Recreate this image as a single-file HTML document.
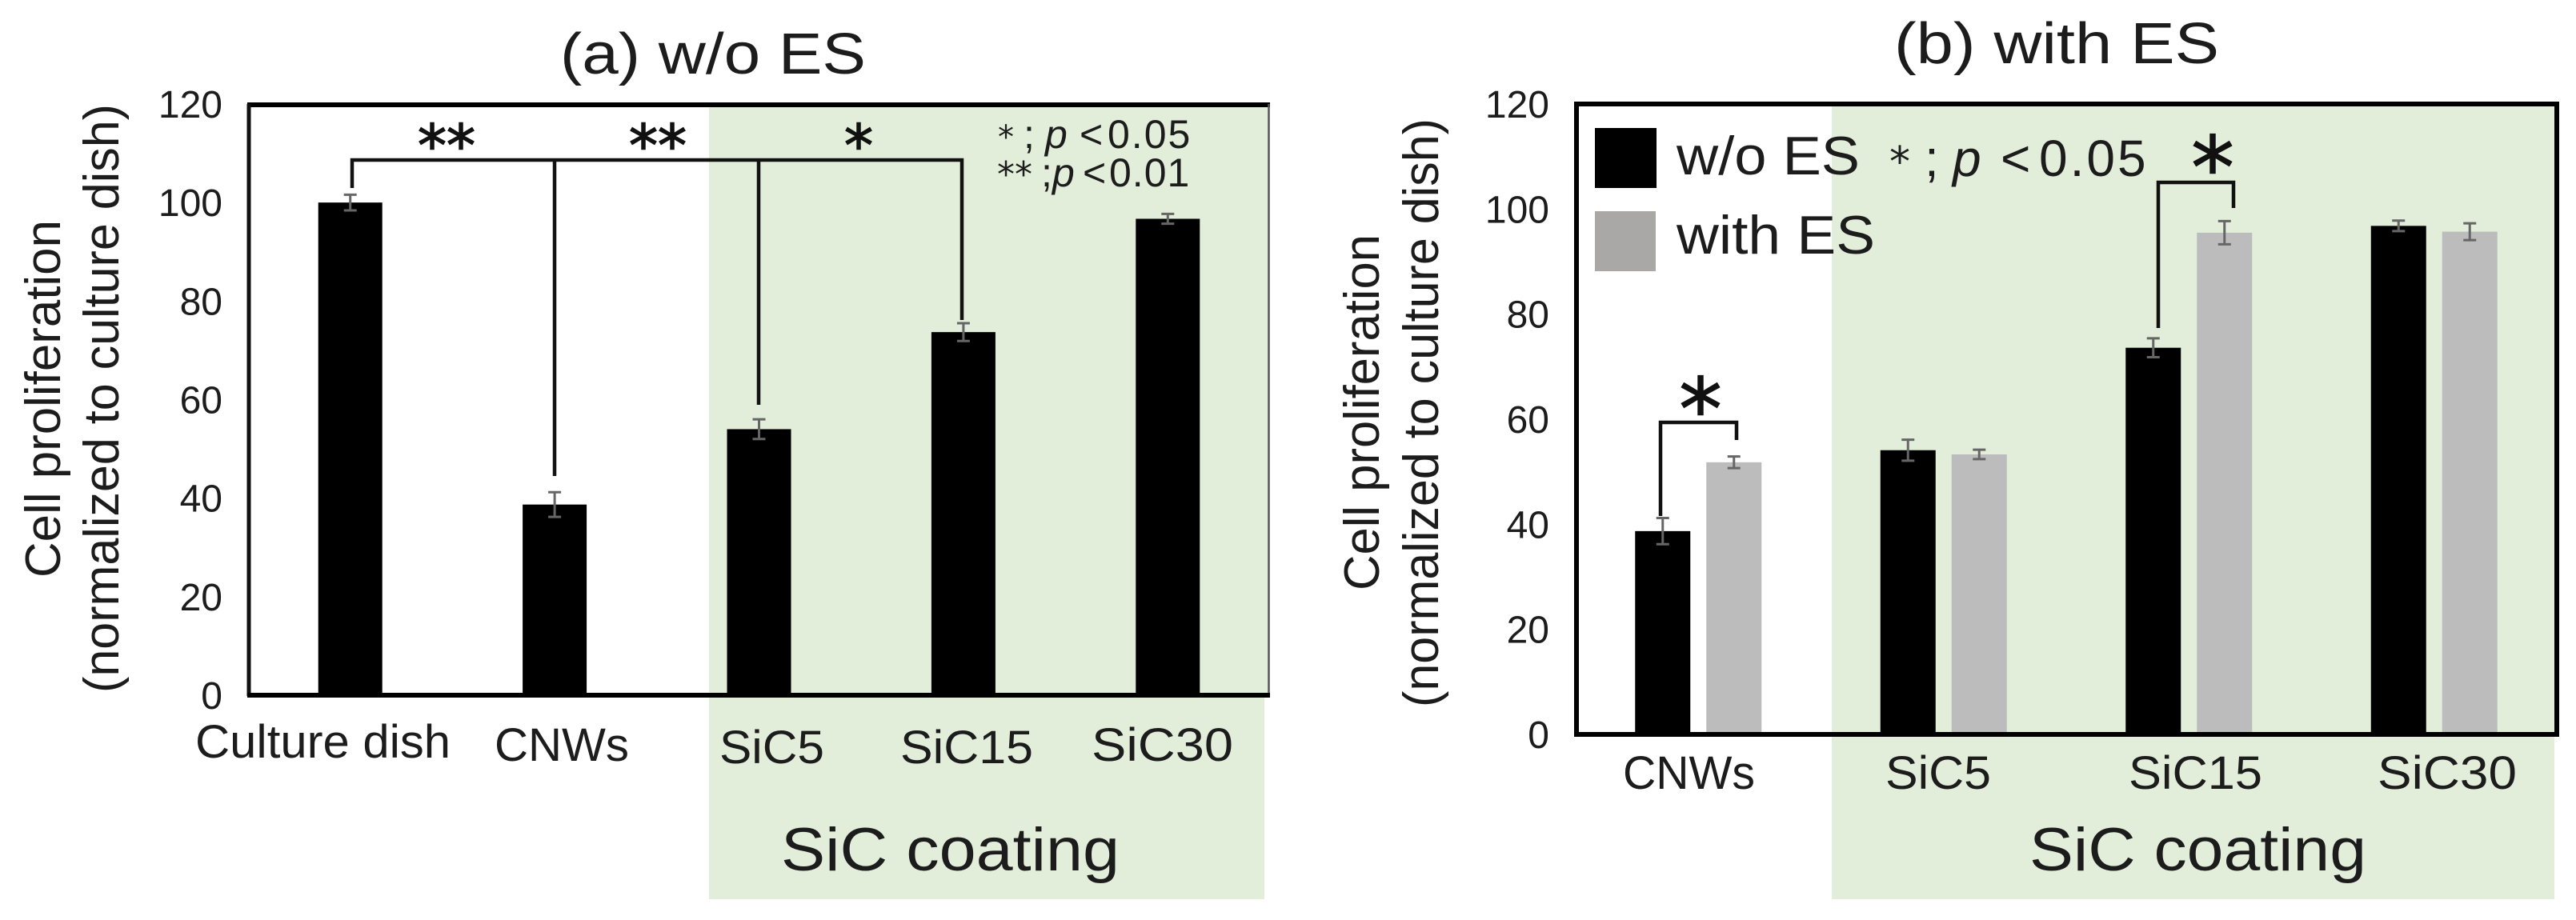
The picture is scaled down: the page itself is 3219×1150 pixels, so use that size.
<!DOCTYPE html>
<html>
<head>
<meta charset="utf-8">
<title>Cell proliferation</title>
<style>
html,body{margin:0;padding:0;background:#fff;}
svg{display:block;}
text{font-family:"Liberation Sans","DejaVu Sans",sans-serif;fill:#1c1c1c;}
.star{font-family:"DejaVu Sans","Liberation Sans",sans-serif;fill:#111;stroke:#111;stroke-width:1.5;text-anchor:middle;}
.st{font-family:"DejaVu Sans","Liberation Sans",sans-serif;}
.it{font-style:italic;}
</style>
</head>
<body>
<svg id="figure" xmlns="http://www.w3.org/2000/svg" width="3219" height="1150" viewBox="0 0 3219 1150">
  <rect x="0" y="0" width="3219" height="1150" fill="#ffffff"/>

  <g id="panel-a">
    <rect x="886" y="130" width="699" height="739" fill="#e2eed9"/>
    <rect x="886" y="869" width="694" height="255" fill="#e2eed9"/>
    <text x="700" y="92" font-size="72" textLength="382" lengthAdjust="spacingAndGlyphs">(a) w/o ES</text>
    <text transform="translate(75,722) rotate(-90)" font-size="62" textLength="447" lengthAdjust="spacingAndGlyphs">Cell proliferation</text>
    <text transform="translate(148,866) rotate(-90)" font-size="62" textLength="736" lengthAdjust="spacingAndGlyphs">(normalized to culture dish)</text>
    <g id="bars-a"></g>
    <line x1="309" y1="131" x2="1587" y2="131" stroke="#000" stroke-width="6"/>
    <line x1="311" y1="130" x2="311" y2="870" stroke="#111" stroke-width="5"/>
    <line x1="1585.5" y1="130" x2="1585.5" y2="870" stroke="#555" stroke-width="2.5"/>
    <line x1="309" y1="869" x2="1587" y2="869" stroke="#000" stroke-width="6"/>
    <g id="ticks-a"></g>
    <text x="244" y="947" font-size="58" textLength="319" lengthAdjust="spacingAndGlyphs">Culture dish</text>
    <text x="618" y="951" font-size="58" textLength="168" lengthAdjust="spacingAndGlyphs">CNWs</text>
    <text x="899" y="954" font-size="58" textLength="131" lengthAdjust="spacingAndGlyphs">SiC5</text>
    <text x="1125" y="954" font-size="58" textLength="166" lengthAdjust="spacingAndGlyphs">SiC15</text>
    <text x="1364" y="951" font-size="58" textLength="177" lengthAdjust="spacingAndGlyphs">SiC30</text>
    <text x="976" y="1088" font-size="76" textLength="423" lengthAdjust="spacingAndGlyphs">SiC coating</text>
    <path d="M440 235V200H1202V400M693 200V595M948 200V506" fill="none" stroke="#111" stroke-width="4.5"/>
    <text class="star" x="558" y="207" font-size="72">**</text>
    <text class="star" x="822" y="207" font-size="72">**</text>
    <text class="star" x="1073" y="207" font-size="72">*</text>
    <text y="185" font-size="50"><tspan class="st" x="1247" font-size="40">*</tspan><tspan x="1279">;</tspan><tspan class="it" x="1306">p</tspan><tspan x="1349">&lt;</tspan><tspan x="1384" letter-spacing="2">0.05</tspan></text>
    <text y="233" font-size="50"><tspan class="st" x="1246" font-size="44">**</tspan><tspan x="1301">;</tspan><tspan class="it" x="1315">p</tspan><tspan x="1353">&lt;</tspan><tspan x="1386" letter-spacing="1">0.01</tspan></text>
  </g>

  <g id="panel-b">
    <rect x="2289" y="130" width="906" height="788" fill="#e2eed9"/>
    <rect x="2289" y="918" width="903" height="206" fill="#e2eed9"/>
    <text x="2367" y="79" font-size="72" textLength="406" lengthAdjust="spacingAndGlyphs">(b) with ES</text>
    <text transform="translate(1723,738) rotate(-90)" font-size="62" textLength="445" lengthAdjust="spacingAndGlyphs">Cell proliferation</text>
    <text transform="translate(1797,884) rotate(-90)" font-size="62" textLength="736" lengthAdjust="spacingAndGlyphs">(normalized to culture dish)</text>
    <g id="bars-b"></g>
    <rect x="1970" y="130" width="1225" height="788" fill="none" stroke="#000" stroke-width="6"/>
    <g id="ticks-b"></g>
    <text x="2028" y="986" font-size="58" textLength="165" lengthAdjust="spacingAndGlyphs">CNWs</text>
    <text x="2356" y="986" font-size="58" textLength="132" lengthAdjust="spacingAndGlyphs">SiC5</text>
    <text x="2660" y="986" font-size="58" textLength="167" lengthAdjust="spacingAndGlyphs">SiC15</text>
    <text x="2971" y="986" font-size="58" textLength="174" lengthAdjust="spacingAndGlyphs">SiC30</text>
    <text x="2536" y="1088" font-size="76" textLength="421" lengthAdjust="spacingAndGlyphs">SiC coating</text>
    <g>
      <rect x="1993" y="160" width="77" height="75" fill="#000"/>
      <text x="2095" y="218" font-size="68" textLength="229" lengthAdjust="spacingAndGlyphs">w/o ES</text>
      <rect x="1993" y="264" width="76" height="75" fill="#aaa7a7"/>
      <text x="2095" y="317" font-size="68" textLength="248" lengthAdjust="spacingAndGlyphs">with ES</text>
    </g>
    <text y="220" font-size="64"><tspan class="st" x="2361" font-size="52">*</tspan><tspan x="2405">;</tspan><tspan class="it" x="2440">p</tspan><tspan x="2500">&lt;</tspan><tspan x="2548" letter-spacing="3">0.05</tspan></text>
    <path d="M2697 410V228H2791V260" fill="none" stroke="#111" stroke-width="4.5"/>
    <text class="star" x="2765" y="247" font-size="107">*</text>
    <path d="M2075 645V528H2170V550" fill="none" stroke="#111" stroke-width="4.5"/>
    <text class="star" x="2125" y="549" font-size="107">*</text>
  </g>
</svg>
<script>
var NS = 'http://www.w3.org/2000/svg';

var tickLabels = [0, 20, 40, 60, 80, 100, 120];

var categoriesA = ['culture-dish', 'cnws', 'sic5', 'sic15', 'sic30'];
var valuesA = [100, 38.7, 54, 73.7, 96.7];
var errorsA = [1.6, 2.5, 2, 1.8, 1];

var categoriesB = ['cnws', 'sic5', 'sic15', 'sic30'];
var valuesWithoutES = [38.7, 54.1, 73.6, 96.8];
var errorsWithoutES = [2.5, 2, 1.8, 1];
var valuesWithES = [51.8, 53.3, 95.5, 95.7];
var errorsWithES = [1.1, 0.9, 2.2, 1.6];

function make(tag, parent, attrs) {
  var el = document.createElementNS(NS, tag);
  for (var k in attrs) { el.setAttribute(k, attrs[k]); }
  parent.appendChild(el);
  return el;
}

function yA(v) { return 869 - v * (739 / 120); }
function xA(i) { return 310 + 255.4 * (i + 0.5); }
function yB(v) { return 918 - v * (788 / 120); }
function xB(i) { return 1969 + 306.5 * (i + 0.5); }

function drawBar(parent, cx, w, value, err, yFn, fill, name) {
  var top = yFn(value);
  var bar = make('rect', parent, { x: cx - w / 2, y: top, width: w, height: yFn(0) - top, fill: fill });
  
  
  var e = make('path', parent, {
    d: 'M' + (cx - 8) + ' ' + yFn(value + err) + 'H' + (cx + 8) +
       'M' + cx + ' ' + yFn(value + err) + 'V' + yFn(value - err) +
       'M' + (cx - 8) + ' ' + yFn(value - err) + 'H' + (cx + 8),
    fill: 'none', stroke: '#666', 'stroke-width': 3
  });
  
  
}

function drawTicks(parent, yFn, xEnd, dy) {
  tickLabels.forEach(function (t) {
    var label = make('text', parent, { x: xEnd, y: yFn(t) + dy, 'text-anchor': 'end', 'font-size': 48 });
    
    
    label.textContent = t;
  });
}

var barsA = document.getElementById('bars-a');
categoriesA.forEach(function (c, i) {
  drawBar(barsA, xA(i), 80, valuesA[i], errorsA[i], yA, '#000', 'a-' + c);
});

var barsB = document.getElementById('bars-b');
categoriesB.forEach(function (c, i) {
  drawBar(barsB, xB(i) - 44.5, 69, valuesWithoutES[i], errorsWithoutES[i], yB, '#000', 'without-es-' + c);
  drawBar(barsB, xB(i) + 44.5, 69, valuesWithES[i], errorsWithES[i], yB, '#bcbcbc', 'with-es-' + c);
});

drawTicks(document.getElementById('ticks-a'), yA, 278, 17);
drawTicks(document.getElementById('ticks-b'), yB, 1936, 17);
</script>
</body>
</html>
